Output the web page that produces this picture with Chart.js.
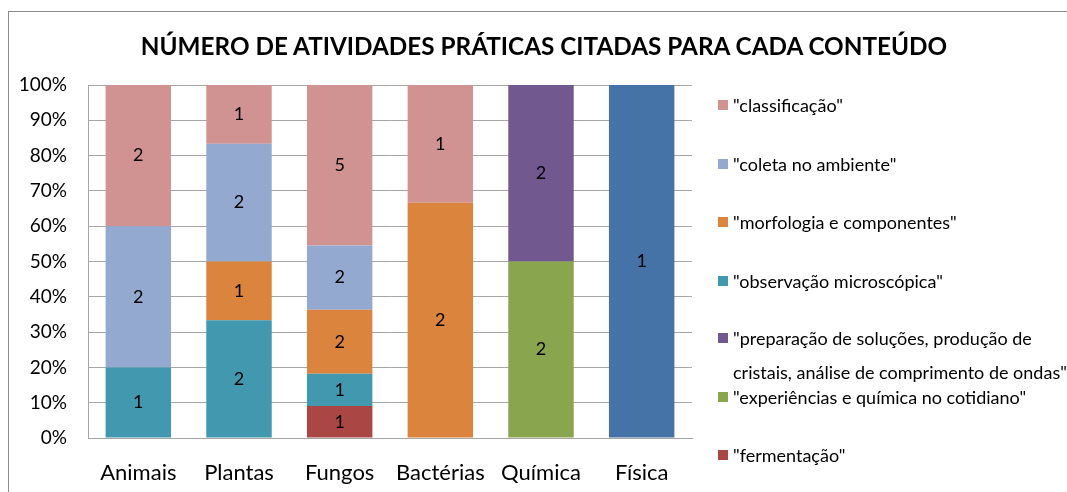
<!DOCTYPE html>
<html>
<head>
<meta charset="utf-8">
<script src="https://cdn.jsdelivr.net/npm/chart.js@4"></script>
<style>
  body { margin: 0; background: #fff; }
  #wrap { position: relative; width: 1067px; height: 492px; overflow: hidden; font-family: Lato, sans-serif; }
  #chart { position: absolute; left: 0; top: 0; }
  .borda-top { position: absolute; left: 8px; top: 11px; width: 1059px; height: 1px; background: #8c8c8c; }
  .borda-left { position: absolute; left: 8px; top: 11px; width: 1px; height: 481px; background: #8c8c8c; }
  #titulo { position: absolute; left: 544px; top: 45px; transform: translate(-50%, -50%); white-space: nowrap;
            font-weight: bold; font-size: 24.3px; color: #000; }
  .leg { position: absolute; left: 718px; font-size: 18px; color: #000; white-space: nowrap; }
  .leg span.box { position: absolute; left: 0; width: 10px; height: 10px; }
  .leg span.txt { position: absolute; left: 15px; transform: translateY(-50%); }
</style>
</head>
<body>
<div id="wrap">
  <canvas id="chart" width="1067" height="492"></canvas>
  <div class="borda-top"></div>
  <div class="borda-left"></div>
  <div id="titulo">NÚMERO DE ATIVIDADES PRÁTICAS CITADAS PARA CADA CONTEÚDO</div>
  <div id="legenda"></div>
</div>
<script>
// categorias e número de atividades por conteúdo
const categorias = ['Animais', 'Plantas', 'Fungos', 'Bactérias', 'Química', 'Física'];

const fisica       = [0, 0, 0, 0, 0, 1];
const fermentacao  = [0, 0, 1, 0, 0, 0];
const experiencias = [0, 0, 0, 0, 2, 0];
const preparacao   = [0, 0, 0, 0, 2, 0];
const observacao   = [1, 2, 1, 0, 0, 0];
const morfologia   = [0, 1, 2, 2, 0, 0];
const coleta       = [2, 2, 2, 0, 0, 0];
const classificacao = [2, 1, 5, 1, 0, 0];

const yTicks = [0, 10, 20, 30, 40, 50, 60, 70, 80, 90, 100];

// séries na ordem de empilhamento (primeira = base)
const series = [
    { nome: '"física"', dados: fisica, cor: '#4572A7' },
    { nome: '"fermentação"', dados: fermentacao, cor: '#AA4643' },
    { nome: '"experiências e química no cotidiano"', dados: experiencias, cor: '#89A54E' },
    { nome: '"preparação de soluções, produção de cristais, análise de comprimento de ondas"', dados: preparacao, cor: '#71588F' },
    { nome: '"observação microscópica"', dados: observacao, cor: '#4198AF' },
    { nome: '"morfologia e componentes"', dados: morfologia, cor: '#DB843D' },
    { nome: '"coleta no ambiente"', dados: coleta, cor: '#94A9CF' },
    { nome: '"classificação"', dados: classificacao, cor: '#D09392' }
];

// totais por categoria para o empilhamento em 100%
const totais = categorias.map((c, i) => series.reduce((s, se) => s + se.dados[i], 0));

const datasets = series.map(se => ({
    label: se.nome,
    data: se.dados.map((v, i) => v / totais[i] * 100),
    contagem: se.dados,
    backgroundColor: se.cor,
    borderWidth: 0,
    barPercentage: 0.65,
    categoryPercentage: 1.0
}));

// rótulos de valor no centro de cada segmento
const rotulosPlugin = {
    id: 'rotulos',
    afterDatasetsDraw(chart) {
        const ctx = chart.ctx;
        ctx.save();
        ctx.font = '18px Lato, sans-serif';
        ctx.fillStyle = '#000';
        ctx.textAlign = 'center';
        ctx.textBaseline = 'middle';
        chart.data.datasets.forEach((ds, di) => {
            const meta = chart.getDatasetMeta(di);
            meta.data.forEach((bar, i) => {
                const v = ds.contagem[i];
                if (!v) return;
                ctx.fillText(String(v), bar.x, (bar.y + bar.base) / 2);
            });
        });
        ctx.restore();
    }
};

new Chart(document.getElementById('chart'), {
    type: 'bar',
    data: { labels: categorias, datasets: datasets },
    options: {
        responsive: false,
        animation: false,
        layout: { padding: { top: 85, right: 375, bottom: 0, left: 0 } },
        plugins: {
            legend: { display: false },
            title: { display: false },
            tooltip: { enabled: false }
        },
        scales: {
            x: {
                stacked: true,
                grid: { display: false },
                border: { color: '#A6A6A6' },
                ticks: { color: '#000', font: { family: 'Lato', size: 22 }, padding: 14 },
                afterFit(s) { s.height = 54; }
            },
            y: {
                stacked: true,
                min: 0,
                max: 100,
                afterBuildTicks(s) { s.ticks = yTicks.map(v => ({ value: v })); },
                ticks: { color: '#000', font: { family: 'Lato', size: 19 }, padding: 21, callback: v => v + '%' },
                grid: { color: '#A6A6A6', drawTicks: false },
                border: { color: '#A6A6A6' },
                afterFit(s) { s.width = 88; }
            }
        }
    },
    plugins: [rotulosPlugin]
});

// legenda à direita (ordem inversa ao empilhamento, como no original)
const linhasLegenda = [
    { y: 105, linhas: ['"classificação"'], cor: '#D09392' },
    { y: 164, linhas: ['"coleta no ambiente"'], cor: '#94A9CF' },
    { y: 222, linhas: ['"morfologia e componentes"'], cor: '#DB843D' },
    { y: 281, linhas: ['"observação microscópica"'], cor: '#4198AF' },
    { y: 338, linhas: ['"preparação de soluções, produção de', 'cristais, análise de comprimento de ondas"'], cor: '#71588F' },
    { y: 397, linhas: ['"experiências e química no cotidiano"'], cor: '#89A54E' },
    { y: 455, linhas: ['"fermentação"'], cor: '#AA4643' }
];
const leg = document.getElementById('legenda');
linhasLegenda.forEach(item => {
    const d = document.createElement('div');
    d.className = 'leg';
    d.style.top = item.y + 'px';
    let html = '<span class="box" style="top:-5px;background:' + item.cor + '"></span>';
    item.linhas.forEach((l, k) => {
        html += '<span class="txt" style="top:' + (k * 34) + 'px">' + l + '</span>';
    });
    d.innerHTML = html;
    leg.appendChild(d);
});
</script>
</body>
</html>
